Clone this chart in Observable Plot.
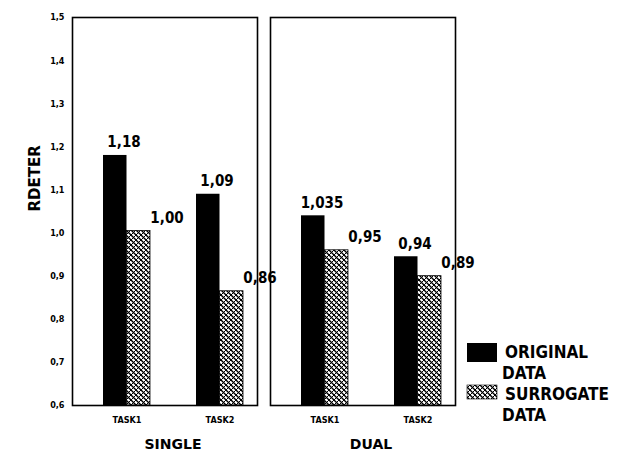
<!DOCTYPE html>
<html>
<head>
<meta charset="utf-8">
<script src="https://cdn.jsdelivr.net/npm/d3@7"></script>
<script src="https://cdn.jsdelivr.net/npm/@observablehq/plot@0.6"></script>
<style>
  html, body { margin: 0; padding: 0; background: #fff; }
  #chart { width: 633px; height: 453px; }
</style>
</head>
<body>
<svg width="0" height="0" style="position:absolute">
  <defs>
    <pattern id="hatch" patternUnits="userSpaceOnUse" width="5" height="5">
      <rect width="5" height="5" fill="#fff"></rect>
      <path d="M0,0 L5,5 M-1,4 L1,6 M4,-1 L6,1" stroke="#000" stroke-width="1.4"></path>
      <path d="M0,5 L5,0 M-1,1 L1,-1 M4,6 L6,4" stroke="#000" stroke-width="1"></path>
    </pattern>
  </defs>
</svg>
<div id="chart"></div>
<script>
// ---- data ----
const conditions = ["SINGLE", "DUAL"];
const tasks = ["TASK1", "TASK2"];
const series = ["ORIGINAL DATA", "SURROGATE DATA"];
// order: SINGLE TASK1, SINGLE TASK2, DUAL TASK1, DUAL TASK2
const originalValues = [1.18, 1.09, 1.04, 0.945];
const surrogateValues = [1.005, 0.865, 0.96, 0.90];
const originalLabels = ["1,18", "1,09", "1,035", "0,94"];
const surrogateLabels = ["1,00", "0,86", "0,95", "0,89"];
const yTicks = [0.6, 0.7, 0.8, 0.9, 1.0, 1.1, 1.2, 1.3, 1.4, 1.5];
const yLabel = "RDETER";

const cells = [];
conditions.forEach(c => tasks.forEach(t => cells.push({condition: c, task: t})));
const rows = [];
cells.forEach((cell, i) => {
  rows.push({...cell, series: series[0], value: originalValues[i], label: originalLabels[i]});
  rows.push({...cell, series: series[1], value: surrogateValues[i], label: surrogateLabels[i]});
});
const orig = rows.filter(d => d.series === series[0]);
const surr = rows.filter(d => d.series === series[1]);
const yMin = yTicks[0];

const FONT = "'DejaVu Sans Condensed', 'DejaVu Sans', sans-serif";
const WIDE = "'DejaVu Sans', sans-serif";

function build(half) {
  return Plot.plot({
    width: 633,
    height: 453,
    marginLeft: 71,
    marginRight: 178,
    marginTop: 17,
    marginBottom: 48,
    style: {fontFamily: FONT, background: "#fff", color: "#000", overflow: "visible"},
    fx: {domain: conditions, paddingInner: 0.066, paddingOuter: 0},
    x: {domain: tasks, paddingInner: 0.495, paddingOuter: 0.237, align: 0.68},
    y: {domain: [yTicks[0], yTicks[yTicks.length - 1]]},
    marks: [
      Plot.barY(orig, {fx: "condition", x: "task", y1: () => yMin, y2: "value", fill: "#000", insetRight: half}),
      Plot.barY(surr, {fx: "condition", x: "task", y1: () => yMin, y2: "value", fill: "url(#hatch)", stroke: "#000", strokeWidth: 0.8, insetLeft: half}),
      Plot.frame({stroke: "#000", strokeWidth: 1.6}),
      Plot.text(orig, {fx: "condition", x: "task", y: "value", text: "label", dx: -3, dy: -13, fontSize: 15, fontWeight: "bold", fill: "#000"}),
      Plot.text(surr, {fx: "condition", x: "task", y: "value", text: "label", dx: 40, dy: -13, fontSize: 15, fontWeight: "bold", fill: "#000"}),
      Plot.text([yLabel], {fx: () => conditions[0], frameAnchor: "left", dx: -37, rotate: -90, fontSize: 15, fontWeight: "bold", fontFamily: WIDE, fill: "#000"}),
      Plot.axisY({ticks: yTicks, tickFormat: d => d.toFixed(1).replace(".", ","), tickSize: 0, tickPadding: 8, fontSize: 9, fontWeight: "bold", label: null}),
      Plot.axisX({tickSize: 0, tickPadding: 11, fontSize: 9, fontWeight: "bold", label: null}),
      Plot.axisFx({anchor: "bottom", tickSize: 0, tickPadding: 34, fontSize: 14, fontWeight: "bold", fontFamily: WIDE, label: null, dx: 8})
    ]
  });
}

const probe = build(0);
const bw = probe.scale("x").bandwidth;
const chart = build(bw / 2);
document.getElementById("chart").appendChild(chart);

// ---- legend (drawn into the plot svg) ----
const svg = d3.select(chart.tagName.toLowerCase() === "svg" ? chart : chart.querySelector("svg"));
const lg = svg.append("g").attr("font-family", FONT).attr("font-weight", "bold").attr("font-size", 17)
  .attr("fill", "#000").attr("text-anchor", "start");
const legendItems = [
  {fill: "#000", lines: ["ORIGINAL", "DATA"], y: 343},
  {fill: "url(#hatch)", lines: ["SURROGATE", "DATA"], y: 385}
];
legendItems.forEach(item => {
  lg.append("rect").attr("x", 467).attr("y", item.y).attr("width", 30).attr("height", item.fill === "#000" ? 19 : 14)
    .attr("fill", item.fill).attr("stroke", item.fill === "#000" ? "none" : "#000").attr("stroke-width", 0.6);
  lg.append("text").attr("x", 505).attr("y", item.y + 15).attr("text-anchor", "start").text(item.lines[0]);
  lg.append("text").attr("x", 502).attr("y", item.y + 36).attr("text-anchor", "start").text(item.lines[1]);
});
</script>
</body>
</html>
